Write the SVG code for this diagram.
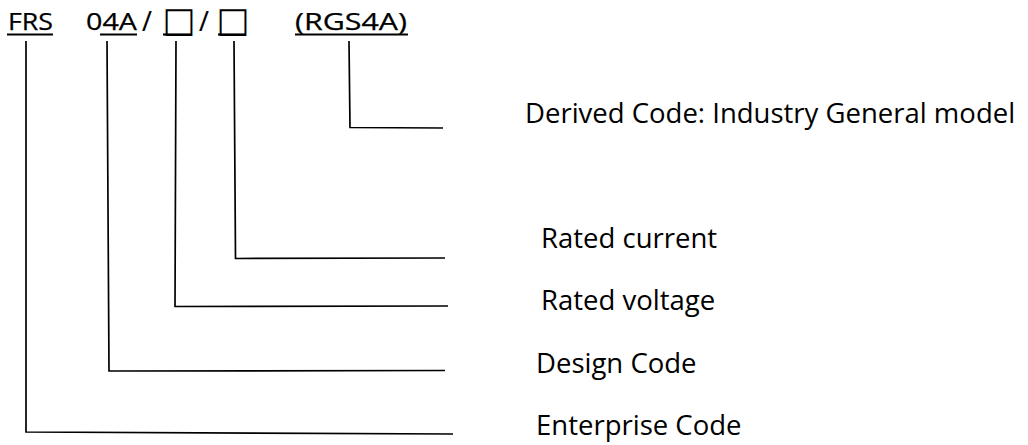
<svg xmlns="http://www.w3.org/2000/svg" width="1028" height="445" viewBox="0 0 1028 445">
  <style>
    .code { font-family: "Open Sans", "Noto Sans", "Liberation Sans", sans-serif; font-size: 24px; fill: #000; stroke: #000; stroke-width: 0.25; }
    .slash { font-family: "Open Sans", "Noto Sans", "Liberation Sans", sans-serif; font-size: 27px; fill: #000; stroke: #000; stroke-width: 0.2; }
    .box { font-family: "DejaVu Sans", sans-serif; font-size: 35px; fill: #000; }
    .label { font-family: "Open Sans", "Noto Sans", "Liberation Sans", sans-serif; font-size: 27.5px; fill: #000; }
    .ul { stroke: #000; stroke-width: 2.2; fill: none; }
    .conn { stroke: #000; stroke-width: 1.7; fill: none; stroke-linejoin: miter; }
  </style>
  <rect width="1028" height="445" fill="#fff"/>

  <g id="code">
    <text class="code" x="8" y="29.5" textLength="45" lengthAdjust="spacingAndGlyphs">FRS</text>
    <text class="code" x="86" y="29.5" textLength="51" lengthAdjust="spacingAndGlyphs">04A</text>
    <text class="slash" x="142" y="31">/</text>
    <text class="box" x="162.5" y="31.5">□</text>
    <text class="slash" x="199" y="31">/</text>
    <text class="box" x="216.5" y="31.5">□</text>
    <text class="code" x="295" y="29.5" textLength="112" lengthAdjust="spacingAndGlyphs">(RGS4A)</text>
    <line class="ul" x1="7" y1="34.5" x2="53" y2="34.5"/>
    <line class="ul" x1="100" y1="34.5" x2="137" y2="34.5"/>
    <line class="ul" x1="163" y1="34.5" x2="192" y2="34.5"/>
    <line class="ul" x1="218" y1="34.5" x2="246" y2="34.5"/>
    <line class="ul" x1="295" y1="34.5" x2="408" y2="34.5"/>
  </g>

  <g id="connectors">
    <polyline class="conn" points="26,41 26,432 453,434"/>
    <polyline class="conn" points="107,41 109,371 445,370.5"/>
    <polyline class="conn" points="176,41 175,306.5 448,306"/>
    <polyline class="conn" points="234,41 235.5,258.5 445,258"/>
    <polyline class="conn" points="349,41 350,127.5 443,128"/>
  </g>

  <g id="label-derived"><text class="label" x="525" y="123">Derived Code: Industry General model</text></g>
  <g id="label-current"><text class="label" x="541" y="248">Rated current</text></g>
  <g id="label-voltage"><text class="label" x="541" y="310">Rated voltage</text></g>
  <g id="label-design"><text class="label" x="536" y="373">Design Code</text></g>
  <g id="label-enterprise"><text class="label" x="536" y="435">Enterprise Code</text></g>
</svg>
